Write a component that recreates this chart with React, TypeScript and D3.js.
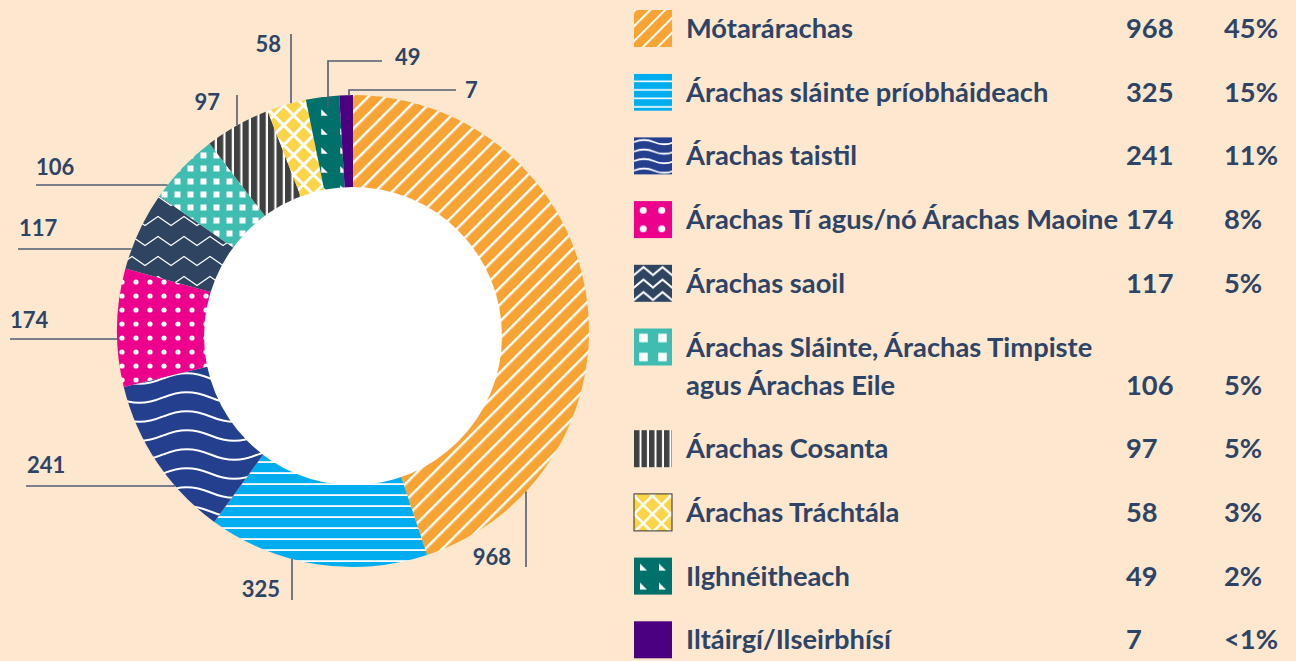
import React from 'react';
import * as d3 from 'd3';

// ---------- data ----------
const categories = [
  'Mótarárachas',
  'Árachas sláinte príobháideach',
  'Árachas taistil',
  'Árachas Tí agus/nó Árachas Maoine',
  'Árachas saoil',
  'Árachas Sláinte, Árachas Timpiste agus Árachas Eile',
  'Árachas Cosanta',
  'Árachas Tráchtála',
  'Ilghnéitheach',
  'Iltáirgí/Ilseirbhísí',
];
const values = [968, 325, 241, 174, 117, 106, 97, 58, 49, 7];
const percentLabels = ['45%', '15%', '11%', '8%', '5%', '5%', '5%', '3%', '2%', '<1%'];
const colors = ['#F8A435', '#00AEEF', '#243F8D', '#EC008C', '#2E4461', '#3FBDB1', '#404041', '#FCD447', '#00706A', '#4B0082'];
const patternKinds = ['diag', 'hlines', 'waves', 'dots', 'chevron', 'squares', 'vlines', 'cross', 'triangles', 'solid'];

// ---------- layout ----------
const W = 1296, H = 661;
const BG = '#FDE7CF';
const TEXT = '#2D4466';
const LINE = '#4F5D72';
const FONT = 'Lato, "Open Sans", sans-serif';
const cx = 353, cy = 331, R = 236;
const hole = { x: 353, y: 336, r: 149 };
const minDisplay = 20; // smallest slice shown with a minimum visible size
const LEGEND_FS = 27.3;

// label annotation layout (leader lines)
const labelLayout: any[] = [
  { kind: 'down', x: 526, y2: 567, tx: 511, ty: 565, anchor: 'end' },
  { kind: 'down', x: 292, y2: 600, tx: 280, ty: 597, anchor: 'end' },
  { kind: 'left', y: 486, x2: 26, tx: 27, ty: 473, anchor: 'start' },
  { kind: 'left', y: 339, x2: 10, tx: 10, ty: 328, anchor: 'start' },
  { kind: 'left', y: 249, x2: 18, tx: 19, ty: 236, anchor: 'start' },
  { kind: 'left', y: 185, x2: 36, tx: 36, ty: 175, anchor: 'start' },
  { kind: 'up', x: 237, y2: 95, tx: 220, ty: 110, anchor: 'end' },
  { kind: 'up', x: 291, y2: 34, tx: 281, ty: 52, anchor: 'end' },
  { kind: 'elbow', x: 328, inset: 10, y: 61, x2: 382, tx: 395, ty: 65, anchor: 'start' },
  { kind: 'elbow', x: 349, inset: 1, y: 90, x2: 456, tx: 465, ty: 98, anchor: 'start' },
];

const chartP: any = {
  diag: { s: 12, lw: 2.4 }, hlines: { s: 11, lw: 1.8 }, waves: { w: 95, h: 19, a: 5.5, sw: 2 },
  dots: { s: 14, r: 2.6 }, chevron: { w: 26, h: 20, a: 9, sw: 1.2 }, squares: { s: 13, q: 6 },
  vlines: { s: 8.5, lw: 2.2 }, cross: { s: 14, lw: 3 }, triangles: { s: 19, t: 6.5 },
};
const legendP: any = {
  diag: { s: 10.5, lw: 2 }, hlines: { s: 8.5, lw: 1.6 }, waves: { w: 40, h: 9.5, a: 2.4, sw: 1.8 },
  dots: { s: 18.5, r: 3.5 }, chevron: { w: 19, h: 12.5, a: 8, sw: 2 }, squares: { s: 19, q: 8.5 },
  vlines: { s: 7.5, lw: 2 }, cross: { s: 13, lw: 2.5 }, triangles: { s: 19, t: 7 },
};

function Pattern({ id, kind, color, p }: any) {
  const common = { id, patternUnits: 'userSpaceOnUse' } as any;
  switch (kind) {
    case 'diag':
      return (
        <pattern {...common} width={p.s} height={p.s} patternTransform="rotate(45)">
          <rect width={p.s} height={p.s} fill={color} />
          <rect x={0} y={0} width={p.lw} height={p.s} fill="#fff" />
        </pattern>
      );
    case 'hlines':
      return (
        <pattern {...common} width={p.s} height={p.s}>
          <rect width={p.s} height={p.s} fill={color} />
          <rect x={0} y={p.s - p.lw} width={p.s} height={p.lw} fill="#fff" />
        </pattern>
      );
    case 'waves': {
      const m = p.h / 2;
      return (
        <pattern {...common} width={p.w} height={p.h}>
          <rect width={p.w} height={p.h} fill={color} />
          <path d={`M0,${m} C${p.w * 0.18},${m - p.a * 1.3} ${p.w * 0.32},${m - p.a * 1.3} ${p.w / 2},${m} S${p.w * 0.82},${m + p.a * 1.3} ${p.w},${m}`} fill="none" stroke="#fff" strokeWidth={p.sw} />
        </pattern>
      );
    }
    case 'dots':
      return (
        <pattern {...common} width={p.s} height={p.s}>
          <rect width={p.s} height={p.s} fill={color} />
          <circle cx={p.s / 2} cy={p.s / 2} r={p.r} fill="#fff" />
        </pattern>
      );
    case 'chevron': {
      const y0 = (p.h + p.a) / 2;
      return (
        <pattern {...common} width={p.w} height={p.h}>
          <rect width={p.w} height={p.h} fill={color} />
          <path d={`M-1,${y0 + p.a / p.w * 2} L${p.w / 2},${y0 - p.a} L${p.w + 1},${y0 + p.a / p.w * 2}`} fill="none" stroke="#fff" strokeWidth={p.sw} />
        </pattern>
      );
    }
    case 'squares':
      return (
        <pattern {...common} width={p.s} height={p.s}>
          <rect width={p.s} height={p.s} fill={color} />
          <rect x={(p.s - p.q) / 2} y={(p.s - p.q) / 2} width={p.q} height={p.q} fill="#fff" />
        </pattern>
      );
    case 'vlines':
      return (
        <pattern {...common} width={p.s} height={p.s}>
          <rect width={p.s} height={p.s} fill={color} />
          <rect x={p.s - p.lw} y={0} width={p.lw} height={p.s} fill="#fff" />
        </pattern>
      );
    case 'cross':
      return (
        <pattern {...common} width={p.s} height={p.s} patternTransform="rotate(45)">
          <rect width={p.s} height={p.s} fill={color} />
          <rect x={0} y={0} width={p.lw} height={p.s} fill="#fff" />
          <rect x={0} y={0} width={p.s} height={p.lw} fill="#fff" />
        </pattern>
      );
    case 'triangles': {
      const o = (p.s - p.t) / 2;
      return (
        <pattern {...common} width={p.s} height={p.s}>
          <rect width={p.s} height={p.s} fill={color} />
          <path d={`M${o},${o} L${o},${o + p.t} L${o + p.t},${o + p.t} Z`} fill="#fff" />
        </pattern>
      );
    }
    default:
      return (
        <pattern {...common} width={10} height={10}>
          <rect width={10} height={10} fill={color} />
        </pattern>
      );
  }
}

function wrapText(text: string, maxW: number, font: string): string[] {
  const c = document.createElement('canvas').getContext('2d');
  if (!c) return [text];
  c.font = font;
  const words = text.split(' ');
  const lines: string[] = [];
  let cur = '';
  for (const w of words) {
    const t = cur ? cur + ' ' + w : w;
    if (c.measureText(t).width > maxW && cur) {
      lines.push(cur);
      cur = w;
    } else cur = t;
  }
  if (cur) lines.push(cur);
  return lines;
}

export default function App() {
  const display = values.map((v) => Math.max(v, minDisplay));
  const arcs = d3.pie<number>().sort(null).value((d) => d)(display);
  const arcGen = d3.arc<d3.PieArcDatum<number>>().innerRadius(0).outerRadius(R);

  const legendFont = `700 ${LEGEND_FS}px ${FONT}`;
  const legendLines = categories.map((c) => wrapText(c, 440, legendFont));
  const rowStep = 63.7, lineStep = 38, firstBaseline = 38;
  let extra = 0;
  const legendRows = legendLines.map((lines, i) => {
    const base = firstBaseline + rowStep * i + extra * lineStep;
    extra += lines.length - 1;
    return { lines, base };
  });

  const circleY = (x: number, r: number, sign: number) => cy + sign * Math.sqrt(Math.max(0, r * r - (x - cx) * (x - cx)));
  const circleX = (y: number, r: number) => cx - Math.sqrt(Math.max(0, r * r - (y - cy) * (y - cy)));

  return (
    <svg width={W} height={H} style={{ position: 'absolute', left: 0, top: 0, display: 'block' }} fontFamily={FONT}>
      <defs>
        {patternKinds.map((k, i) => (
          <Pattern key={'c' + i} id={`pc${i}`} kind={k} color={colors[i]} p={chartP[k] || {}} />
        ))}
        {patternKinds.map((k, i) => (
          <Pattern key={'l' + i} id={`pl${i}`} kind={k} color={colors[i]} p={legendP[k] || {}} />
        ))}
      </defs>
      <rect width={W} height={H} fill={BG} />

      {/* donut */}
      <g transform={`translate(${cx},${cy})`}>
        {arcs.map((a, i) => (
          <path key={i} d={arcGen(a) || ''} fill={`url(#pc${i})`} />
        ))}
      </g>
      <circle cx={hole.x} cy={hole.y} r={hole.r} fill="#fff" />

      {/* labels */}
      {labelLayout.map((L, i) => {
        let d = '';
        if (L.kind === 'down') d = `M${L.x},${circleY(L.x, R, 1)} V${L.y2}`;
        else if (L.kind === 'up') d = `M${L.x},${circleY(L.x, R, -1)} V${L.y2}`;
        else if (L.kind === 'left') d = `M${circleX(L.y, R)},${L.y} H${L.x2}`;
        else d = `M${L.x},${circleY(L.x, R - L.inset, -1)} V${L.y} H${L.x2}`;
        return (
          <g key={i}>
            <path d={d} fill="none" stroke={LINE} strokeWidth={1.6} />
            <text x={L.tx} y={L.ty} textAnchor={L.anchor} fontSize={22} fontWeight={700} fill={TEXT}>
              {values[i]}
            </text>
          </g>
        );
      })}

      {/* legend */}
      {legendRows.map((row, i) => {
        const lastBase = row.base + (row.lines.length - 1) * lineStep;
        return (
          <g key={i}>
            <g transform={`translate(634,${row.base - 28})`}>
              <rect width={38} height={37} fill={`url(#pl${i})`} stroke={patternKinds[i] === 'cross' ? '#333' : 'none'} strokeWidth={1} />
            </g>
            {row.lines.map((ln, j) => (
              <text key={j} x={686} y={row.base + j * lineStep} fontSize={LEGEND_FS} fontWeight={700} fill={TEXT}>
                {ln}
              </text>
            ))}
            <text x={1126} y={lastBase} fontSize={LEGEND_FS} fontWeight={700} fill={TEXT}>{values[i]}</text>
            <text x={1224} y={lastBase} fontSize={LEGEND_FS} fontWeight={700} fill={TEXT}>{percentLabels[i]}</text>
          </g>
        );
      })}
    </svg>
  );
}
